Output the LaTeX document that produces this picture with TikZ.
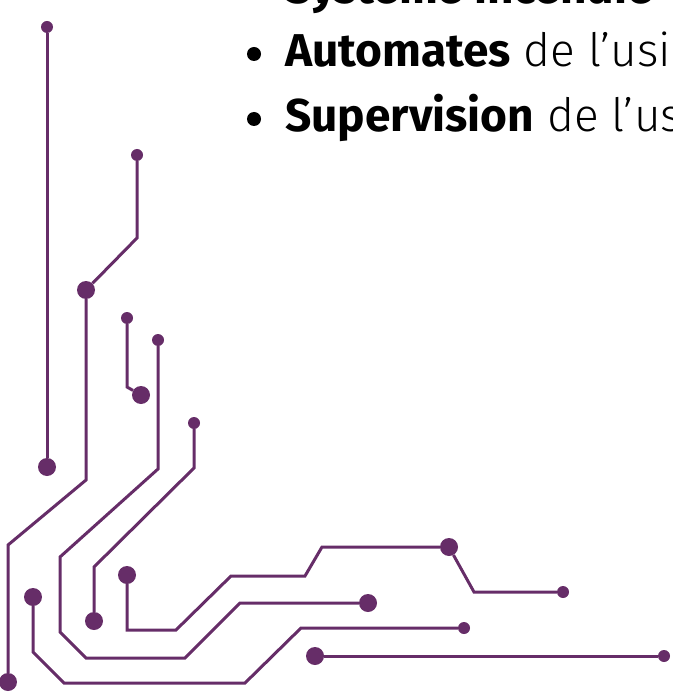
\documentclass[tikz,border=0pt]{standalone}
\usepackage{fontspec}
\setmainfont{Fira Sans}[UprightFont=* Light, BoldFont=* Bold]
\definecolor{circuit}{RGB}{102,45,104}
\begin{document}
\begin{tikzpicture}[x=1pt,y=-1pt,
  wire/.style={draw=circuit,line width=3pt},
  sdot/.style={circle,fill=circuit,inner sep=0pt,minimum size=12pt},
  bdot/.style={circle,fill=circuit,inner sep=0pt,minimum size=18pt},
  bul/.style={circle,fill=black,inner sep=0pt,minimum size=14pt},
  txt/.style={anchor=base west,inner sep=0pt,font=\fontsize{46}{55}\selectfont}]
\useasboundingbox (0,0) rectangle (672,692);
% text
\node[txt] (t1) at (285,4) {\textbf{Système incendie}};
\node[bul] (u2) at (254,54) {};
\node[txt] (t2) at (285,67) {\textbf{Automates} de l’usine};
\node[bul] (u3) at (254,119) {};
\node[txt] (t3) at (285,132) {\textbf{Supervision} de l’usine};
% line A
\node[sdot] (a1) at (47,27) {};
\node[bdot] (a2) at (47,467) {};
\draw[wire] (a1) -- (a2);
% line B
\node[sdot] (b1) at (137,155) {};
\coordinate (b2) at (137,238);
\node[bdot] (b3) at (86,290) {};
\coordinate (b4) at (86,480);
\coordinate (b5) at (8,545);
\node[bdot] (b6) at (8,682) {};
\draw[wire] (b1) -- (b2) -- (b3);
\draw[wire] (b3) -- (b4) -- (b5) -- (b6);
% line C
\node[sdot] (c1) at (127,318) {};
\coordinate (c2) at (127,387);
\node[bdot] (c3) at (141,395) {};
\draw[wire] (c1) -- (c2) -- (c3);
% line D
\node[sdot] (d1) at (158,340) {};
\coordinate (d2) at (158,469);
\coordinate (d3) at (60,557);
\coordinate (d4) at (60,632);
\coordinate (d5) at (86,658);
\coordinate (d6) at (185,658);
\coordinate (d7) at (240,603);
\node[bdot] (d8) at (368,603) {};
\draw[wire] (d1) -- (d2) -- (d3) -- (d4) -- (d5) -- (d6) -- (d7) -- (d8);
% line E
\node[sdot] (e1) at (194,423) {};
\coordinate (e2) at (194,468);
\coordinate (e3) at (94,567);
\node[bdot] (e4) at (94,621) {};
\draw[wire] (e1) -- (e2) -- (e3) -- (e4);
% line F
\node[bdot] (f1) at (127,575) {};
\coordinate (f2) at (127,630);
\coordinate (f3) at (176,630);
\coordinate (f4) at (231,576);
\coordinate (f5) at (305,576);
\coordinate (f6) at (322,547);
\node[bdot] (f7) at (449,547) {};
\coordinate (f8) at (474,592);
\node[sdot] (f9) at (563,592) {};
\draw[wire] (f1) -- (f2) -- (f3) -- (f4) -- (f5) -- (f6) -- (f7);
\draw[wire] (f7) -- (f8) -- (f9);
% line G
\node[bdot] (g1) at (33,597) {};
\coordinate (g2) at (33,652);
\coordinate (g3) at (64,683);
\coordinate (g4) at (245,683);
\coordinate (g5) at (301,628);
\node[sdot] (g6) at (464,628) {};
\draw[wire] (g1) -- (g2) -- (g3) -- (g4) -- (g5) -- (g6);
% line H
\node[bdot] (h1) at (315,656) {};
\node[sdot] (h2) at (664,656) {};
\draw[wire] (h1) -- (h2);
\end{tikzpicture}
\end{document}
